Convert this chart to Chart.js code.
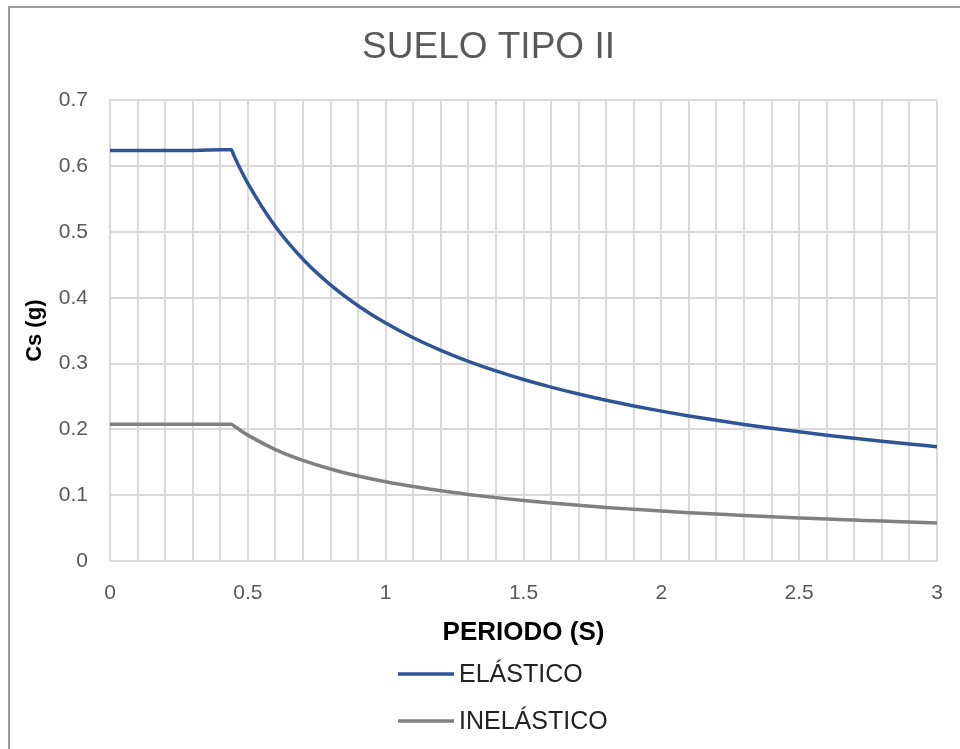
<!DOCTYPE html>
<html>
<head>
<meta charset="utf-8">
<script src="https://cdn.jsdelivr.net/npm/chart.js@4/dist/chart.umd.min.js"></script>
<style>
  html, body { margin: 0; padding: 0; background: #fff; }
  #wrap { position: relative; width: 960px; height: 749px; }
  #frame { position: absolute; left: 8px; top: 6px; right: 0; bottom: 0;
           border-left: 2px solid #9a9a9a; border-top: 2px solid #9a9a9a; }
  #spectrum { position: absolute; left: 0; top: 0; }
</style>
</head>
<body>
<div id="wrap">
  <div id="frame"></div>
  <canvas id="spectrum" width="960" height="749"></canvas>
</div>
<script>
// periodo (s)
const periodos = [0, 0.1, 0.2, 0.3, 0.4, 0.44, 0.45, 0.47, 0.5, 0.6, 0.7, 0.8, 0.9, 1.0,
  1.1, 1.2, 1.3, 1.4, 1.5, 1.6, 1.7, 1.8, 1.9, 2.0, 2.1, 2.2, 2.3, 2.4, 2.5,
  2.6, 2.7, 2.8, 2.9, 3.0];
// Cs (g) elástico
const elastico = [0.624, 0.624, 0.624, 0.624, 0.625, 0.625, 0.6157, 0.5981, 0.5739, 0.5083, 0.4586, 0.4196, 0.3879, 0.3616,
  0.3393, 0.3202, 0.3035, 0.2889, 0.2759, 0.2643, 0.2538, 0.2443, 0.2357, 0.2278, 0.2205, 0.2138, 0.2075, 0.2017, 0.1963,
  0.1912, 0.1865, 0.1820, 0.1778, 0.1738];
// Cs (g) inelástico
const inelastico = [0.208, 0.208, 0.208, 0.208, 0.208, 0.208, 0.2052, 0.1994, 0.1913, 0.1694, 0.1529, 0.1399, 0.1293, 0.1205,
  0.1131, 0.1067, 0.1012, 0.0963, 0.0920, 0.0881, 0.0846, 0.0814, 0.0786, 0.0759, 0.0735, 0.0713, 0.0692, 0.0672, 0.0654,
  0.0637, 0.0622, 0.0607, 0.0593, 0.0579];

const fontFam = "'Liberation Sans', Arial, sans-serif";

function pts(vals) {
  return periodos.map((p, i) => ({ x: p, y: vals[i] }));
}

// legend drawn as a vertical list under the x axis title
const stackedLegend = {
  id: "stackedLegend",
  afterDraw(chart, args, opts) {
    const ctx = chart.ctx;
    ctx.save();
    ctx.font = opts.font;
    ctx.textBaseline = "middle";
    ctx.textAlign = "left";
    chart.data.datasets.forEach((ds, i) => {
      const y = opts.top + i * opts.rowGap;
      ctx.strokeStyle = ds.borderColor;
      ctx.lineWidth = ds.borderWidth;
      ctx.beginPath();
      ctx.moveTo(opts.left, y);
      ctx.lineTo(opts.left + opts.lineLen, y);
      ctx.stroke();
      ctx.fillStyle = opts.color;
      ctx.fillText(ds.label, opts.left + opts.lineLen + 5, y + 1);
    });
    ctx.restore();
  },
};

const gridColor = "#d9d9d9";

new Chart(document.getElementById("spectrum"), {
  type: "line",
  data: {
    datasets: [
      {
        label: "ELÁSTICO",
        data: pts(elastico),
        borderColor: "#2f5597",
        borderWidth: 3.5,
        pointRadius: 0,
        cubicInterpolationMode: "monotone",
      },
      {
        label: "INELÁSTICO",
        data: pts(inelastico),
        borderColor: "#808080",
        borderWidth: 3.5,
        pointRadius: 0,
        cubicInterpolationMode: "monotone",
      },
    ],
  },
  options: {
    responsive: false,
    animation: false,
    layout: { padding: { left: 40, right: 23, top: 0, bottom: 98 } },
    plugins: {
      legend: { display: false },
      tooltip: { enabled: false },
      title: {
        display: true,
        text: "SUELO TIPO II",
        color: "#595959",
        font: { family: fontFam, size: 37, weight: "normal" },
        padding: { top: 26, bottom: 30 },
      },
      stackedLegend: {
        left: 398,
        lineLen: 56,
        top: 674,
        rowGap: 47,
        font: "25px " + fontFam,
        color: "#222",
      },
    },
    scales: {
      x: {
        type: "linear",
        min: 0,
        max: 3,
        afterFit(scale) {
          scale.height = 90;
          scale.paddingLeft = 0;
          scale.paddingRight = 0;
        },
        grid: { color: gridColor, lineWidth: 2, drawTicks: false },
        border: { color: gridColor, width: 2 },
        ticks: {
          stepSize: 0.1,
          autoSkip: false,
          maxRotation: 0,
          padding: 20,
          color: "#595959",
          font: { family: fontFam, size: 21 },
          callback(v) {
            return Math.round(v * 10) % 5 === 0 ? String(+v.toFixed(1)) : "";
          },
        },
        title: {
          display: true,
          text: "PERIODO (S)",
          color: "#000",
          font: { family: fontFam, size: 26, weight: "bold" },
          padding: { top: 0, bottom: 3 },
        },
      },
      y: {
        min: 0,
        max: 0.7,
        afterFit(scale) { scale.width = 70; },
        grid: { color: gridColor, lineWidth: 2, drawTicks: false },
        border: { color: gridColor, width: 2 },
        ticks: {
          stepSize: 0.1,
          padding: 22,
          color: "#595959",
          font: { family: fontFam, size: 21 },
          callback(v) { return String(+v.toFixed(1)); },
        },
        title: {
          display: true,
          text: "Cs (g)",
          color: "#000",
          font: { family: fontFam, size: 22, weight: "bold" },
          padding: { top: -18, bottom: 0 },
        },
      },
    },
  },
  plugins: [stackedLegend],
});
</script>
</body>
</html>
